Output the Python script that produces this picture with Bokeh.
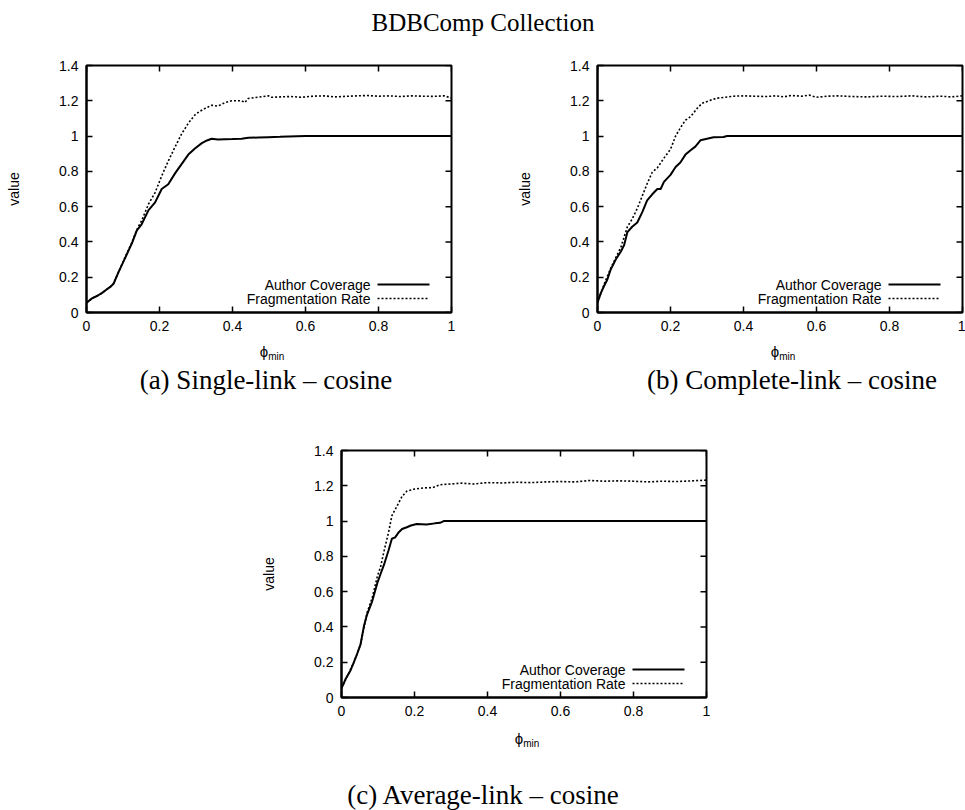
from bokeh.plotting import figure
from bokeh.layouts import column, row
from bokeh.models import (Div, Spacer, Label, FixedTicker, CustomJSTickFormatter)
from bokeh.embed import file_html
from bokeh.resources import INLINE

TITLE = "BDBComp Collection"
CAPTIONS = ["(a) Single-link – cosine", "(b) Complete-link – cosine", "(c) Average-link – cosine"]
SERIES = ["Author Coverage", "Fragmentation Rate"]
X_LABEL = ("ϕ", "min")
Y_LABEL = "value"
X_TICKS = [0, 0.2, 0.4, 0.6, 0.8, 1]
Y_TICKS = [0, 0.2, 0.4, 0.6, 0.8, 1, 1.2, 1.4]

# (a) single-link
single_cov_x = [0.0, 0.015, 0.03, 0.042, 0.055, 0.065, 0.074, 0.088, 0.106, 0.124, 0.138, 0.151,
                0.17, 0.188, 0.206, 0.224, 0.243, 0.26, 0.279, 0.297, 0.316, 0.33, 0.343, 0.36,
                0.38, 0.40, 0.425, 0.443, 0.47, 0.498, 0.53, 0.553, 0.6, 0.7, 0.8, 0.9, 1.0]
single_cov_y = [0.055, 0.08, 0.095, 0.11, 0.13, 0.145, 0.163, 0.23, 0.31, 0.39, 0.465, 0.50,
                0.58, 0.624, 0.70, 0.727, 0.79, 0.84, 0.895, 0.93, 0.96, 0.975, 0.985, 0.98,
                0.982, 0.983, 0.985, 0.99, 0.992, 0.994, 0.996, 0.998, 1.0, 1.0, 1.0, 1.0, 1.0]
single_frag_x = [0.0, 0.015, 0.03, 0.042, 0.055, 0.065, 0.074, 0.088, 0.106, 0.124, 0.138, 0.151,
                 0.17, 0.188, 0.206, 0.224, 0.243, 0.26, 0.279, 0.297, 0.31, 0.325, 0.343, 0.36,
                 0.38, 0.398, 0.425, 0.434, 0.443, 0.47, 0.498, 0.507, 0.53, 0.56, 0.59, 0.62,
                 0.65, 0.68, 0.71, 0.74, 0.77, 0.80, 0.83, 0.86, 0.89, 0.92, 0.95, 0.98, 1.0]
single_frag_y = [0.055, 0.08, 0.095, 0.11, 0.13, 0.145, 0.163, 0.23, 0.315, 0.395, 0.47, 0.52,
                 0.615, 0.68, 0.774, 0.858, 0.94, 1.01, 1.073, 1.12, 1.14, 1.157, 1.175, 1.17,
                 1.19, 1.2, 1.2, 1.19, 1.213, 1.22, 1.228, 1.22, 1.222, 1.224, 1.22, 1.226,
                 1.228, 1.222, 1.225, 1.228, 1.23, 1.226, 1.228, 1.224, 1.228, 1.226, 1.225, 1.228, 1.215]

# (b) complete-link
complete_cov_x = [0.0, 0.009, 0.018, 0.027, 0.036, 0.05, 0.064, 0.073, 0.082, 0.095, 0.109, 0.123,
                  0.136, 0.15, 0.164, 0.173, 0.182, 0.2, 0.214, 0.227, 0.241, 0.255, 0.268, 0.282,
                  0.3, 0.318, 0.345, 0.355, 0.5, 0.75, 1.0]
complete_cov_y = [0.056, 0.11, 0.15, 0.187, 0.243, 0.30, 0.346, 0.383, 0.456, 0.486, 0.51, 0.57,
                  0.635, 0.67, 0.70, 0.70, 0.74, 0.78, 0.825, 0.85, 0.895, 0.92, 0.94, 0.976,
                  0.985, 0.993, 0.995, 1.0, 1.0, 1.0, 1.0]
complete_frag_x = [0.0, 0.018, 0.036, 0.064, 0.082, 0.095, 0.109, 0.136, 0.15, 0.164, 0.182, 0.2,
                   0.214, 0.227, 0.241, 0.255, 0.273, 0.286, 0.305, 0.327, 0.35, 0.373, 0.40, 0.43,
                   0.46, 0.49, 0.51, 0.53, 0.56, 0.58, 0.6, 0.63, 0.66, 0.7, 0.74, 0.78, 0.82,
                   0.86, 0.9, 0.94, 0.97, 1.0]
complete_frag_y = [0.056, 0.16, 0.25, 0.37, 0.486, 0.53, 0.59, 0.73, 0.795, 0.82, 0.875, 0.925,
                   1.0, 1.047, 1.09, 1.11, 1.157, 1.185, 1.2, 1.215, 1.22, 1.226, 1.228, 1.226,
                   1.224, 1.228, 1.222, 1.23, 1.226, 1.232, 1.22, 1.226, 1.228, 1.224, 1.222, 1.226,
                   1.224, 1.228, 1.222, 1.226, 1.222, 1.228]

# (c) average-link
average_cov_x = [0.0, 0.012, 0.025, 0.034, 0.043, 0.052, 0.062, 0.07, 0.084, 0.098, 0.107, 0.116,
                 0.129, 0.138, 0.147, 0.157, 0.166, 0.179, 0.19, 0.206, 0.233, 0.256, 0.27, 0.28,
                 0.5, 0.75, 1.0]
average_cov_y = [0.052, 0.108, 0.155, 0.2, 0.248, 0.30, 0.41, 0.47, 0.545, 0.648, 0.70, 0.75,
                 0.835, 0.9, 0.908, 0.937, 0.955, 0.965, 0.975, 0.983, 0.98, 0.987, 0.99, 1.0,
                 1.0, 1.0, 1.0]
average_frag_x = [0.0, 0.034, 0.052, 0.062, 0.07, 0.084, 0.098, 0.107, 0.116, 0.129, 0.138, 0.152,
                  0.166, 0.179, 0.197, 0.224, 0.25, 0.27, 0.297, 0.33, 0.36, 0.4, 0.44, 0.48,
                  0.52, 0.56, 0.6, 0.64, 0.68, 0.72, 0.76, 0.8, 0.84, 0.88, 0.92, 0.96, 1.0]
average_frag_y = [0.052, 0.2, 0.30, 0.40, 0.48, 0.564, 0.685, 0.74, 0.825, 0.937, 1.03, 1.085,
                  1.14, 1.17, 1.18, 1.188, 1.19, 1.206, 1.21, 1.215, 1.21, 1.218, 1.216, 1.22,
                  1.218, 1.222, 1.224, 1.222, 1.23, 1.226, 1.228, 1.226, 1.222, 1.226, 1.224, 1.228, 1.232]

SANS = "Liberation Sans"
SERIF = "Liberation Serif"
FRAME_W, FRAME_H = 365, 247
X_MAX, Y_MAX = 1.0, 1.4
TICK_PX = 6
DOTS = "2 2"


def px_to_x(px):
    return px / FRAME_W * X_MAX


def px_to_y(px):
    return px / FRAME_H * Y_MAX


def style_axis(axis):
    axis.axis_line_color = "black"
    axis.axis_line_width = 2
    axis.major_tick_in = TICK_PX
    axis.major_tick_out = 0
    axis.major_tick_line_width = 1.5
    axis.minor_tick_line_color = None
    axis.major_label_text_font = SANS
    axis.major_label_text_color = "black"
    axis.major_label_text_font_size = "14px"
    axis.major_label_standoff = 8
    axis.axis_label_text_font = SANS
    axis.axis_label_text_font_size = "14px"
    axis.axis_label_text_font_style = "normal"
    axis.axis_label_text_color = "black"


def make_panel(cov_x, cov_y, frag_x, frag_y, left, right, top, bottom):
    width = left + FRAME_W + right
    height = top + FRAME_H + bottom
    p = figure(width=width, height=height, x_range=(0, X_MAX), y_range=(0, Y_MAX),
               output_backend="svg", toolbar_location=None,
               min_border_left=left, min_border_right=right,
               min_border_top=top, min_border_bottom=bottom)
    p.grid.visible = False
    p.outline_line_color = "black"
    p.outline_line_width = 2
    p.outline_line_alpha = 1
    p.background_fill_color = "white"
    p.border_fill_color = "white"

    fmt = CustomJSTickFormatter(code="return String(Math.round(tick * 10) / 10);")
    p.xaxis.ticker = FixedTicker(ticks=X_TICKS)
    p.yaxis.ticker = FixedTicker(ticks=Y_TICKS)
    p.xaxis.formatter = fmt
    p.yaxis.formatter = fmt
    style_axis(p.xaxis[0])
    style_axis(p.yaxis[0])
    p.yaxis.axis_label = Y_LABEL
    p.yaxis.axis_label_standoff = 34

    # mirrored inward ticks along the top and right edges of the frame
    tx, ty = px_to_x(TICK_PX), px_to_y(TICK_PX)
    p.segment(x0=X_TICKS, y0=[Y_MAX] * len(X_TICKS), x1=X_TICKS, y1=[Y_MAX - ty] * len(X_TICKS),
              line_color="black", line_width=1.5)
    p.segment(x0=[X_MAX] * len(Y_TICKS), y0=Y_TICKS, x1=[X_MAX - tx] * len(Y_TICKS), y1=Y_TICKS,
              line_color="black", line_width=1.5)

    p.line(cov_x, cov_y, line_color="black", line_width=2)
    p.line(frag_x, frag_y, line_color="black", line_width=1.6, line_dash=DOTS)

    # key in the lower right: text, then a short sample of the line style
    key_rows = [px_to_y(28), px_to_y(14)]
    key_x0, key_x1 = px_to_x(FRAME_W - 74), px_to_x(FRAME_W - 22)
    text_x = px_to_x(FRAME_W - 81)
    dashes = ["solid", DOTS]
    widths = [2, 1.6]
    for name, yy, dash, lw in zip(SERIES, key_rows, dashes, widths):
        p.add_layout(Label(x=text_x, y=yy, text=name, text_align="right",
                           text_baseline="middle", text_font=SANS,
                           text_font_size="14px", text_color="black"))
        p.line([key_x0, key_x1], [yy, yy], line_color="black", line_width=lw, line_dash=dash)
    return p


def span(html, cx, cy, font, size):
    return (f'<span style="position:absolute;left:{cx}px;top:{cy}px;'
            f'transform:translate(-50%,-50%);white-space:nowrap;'
            f'font-family:\'{font}\';font-size:{size}px;">{html}</span>')


def text_div(width, height, spans):
    html = (f'<div style="position:relative;width:{width}px;height:{height}px;'
            f'color:black;line-height:1;">{"".join(spans)}</div>')
    return Div(text=html, width=width, height=height, margin=0)


def axis_title(cx, cy):
    sym, sub = X_LABEL
    html = f'{sym}<sub style="font-size:10px;vertical-align:-3px;">{sub}</sub>'
    return span(html, cx, cy, SANS, 15)


# top row: frames at x 86..451 and 597..962, y 65..312
title = text_div(965, 45, [span(TITLE, 483, 22, SERIF, 25)])
pa = make_panel(single_cov_x, single_cov_y, single_frag_x, single_frag_y, 86, 31, 20, 28)
pb = make_panel(complete_cov_x, complete_cov_y, complete_frag_x, complete_frag_y, 115, 3, 20, 28)
below_top = text_div(965, 60, [axis_title(272, 13), axis_title(783, 13),
                               span(CAPTIONS[0], 266, 40, SERIF, 27),
                               span(CAPTIONS[1], 792, 40, SERIF, 27)])
# bottom row: frame at x 341..706, y 450..697
pc = make_panel(average_cov_x, average_cov_y, average_frag_x, average_frag_y, 85, 32, 50, 28)
below_c = text_div(965, 85, [axis_title(527, 15), span(CAPTIONS[2], 483, 70, SERIF, 27)])

layout = column(title,
                row(pa, pb, spacing=0),
                below_top,
                row(Spacer(width=256, height=325), pc, spacing=0),
                below_c, spacing=0)

open("out.html", "w").write(file_html(layout, INLINE))
